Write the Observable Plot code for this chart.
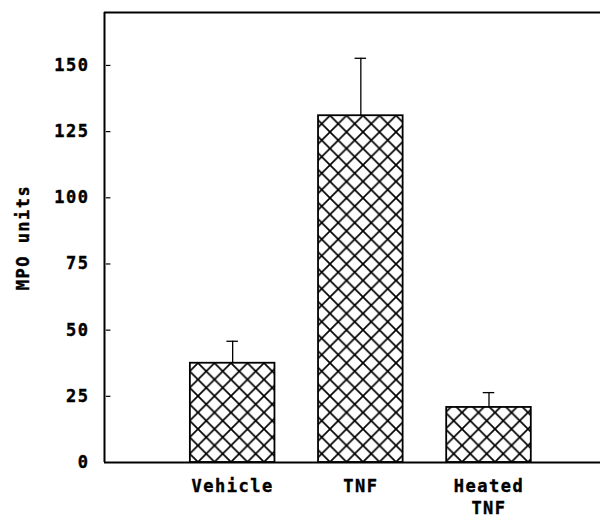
<!DOCTYPE html>
<html>
<head>
<meta charset="utf-8">
<script src="https://cdn.jsdelivr.net/npm/d3@7"></script>
<script src="https://cdn.jsdelivr.net/npm/@observablehq/plot@0.6"></script>
<style>
  html, body { margin: 0; padding: 0; background: #fff; }
  svg text { stroke: #000; stroke-width: 0.4px; }
</style>
</head>
<body>
<div id="chart"></div>
<script>
const categories = ["Vehicle", "TNF", "Heated\nTNF"];
const means = [37.5, 131, 20.8];
const errors = [8.3, 21.7, 5.6];
const yTicks = [0, 25, 50, 75, 100, 125, 150];
const yLabel = "MPO units";

const data = categories.map((c, i) => ({cat: c, pos: i + 1, mean: means[i], top: means[i] + errors[i]}));
const halfBar = 0.33;
const halfCap = 0.045;

const chart = Plot.plot({
  width: 601,
  height: 520,
  marginTop: 12,
  marginBottom: 58,
  marginLeft: 104,
  marginRight: 1,
  style: {fontFamily: "'DejaVu Sans Mono', monospace", fontSize: "17px", fontWeight: "bold", letterSpacing: "1.5px", background: "#fff", color: "#000"},
  x: {domain: [0, 3.87]},
  y: {domain: [0, 170]},
  marks: [
    Plot.rectY(data, {x1: d => d.pos - halfBar, x2: d => d.pos + halfBar, y1: 0, y2: "mean", fill: "url(#xhatch)", stroke: "#000", strokeWidth: 1.8}),
    Plot.ruleX(data, {x: "pos", y1: "mean", y2: "top", stroke: "#000", strokeWidth: 1.3}),
    Plot.ruleY(data, {y: "top", x1: d => d.pos - halfCap, x2: d => d.pos + halfCap, stroke: "#000", strokeWidth: 1.3}),
    Plot.ruleY(yTicks.slice(1), {x1: 0.015, x2: 0.05, stroke: "#000", strokeWidth: 1.2}),
    Plot.axisY({ticks: yTicks, tickSize: 0, tickPadding: 15, label: yLabel, labelAnchor: "center", labelArrow: "none", labelOffset: 88, fontSize: 17}),
    Plot.axisX({ticks: [1, 2, 3], tickFormat: d => categories[d - 1], tickSize: 0, tickPadding: 14, label: null, lineHeight: 1.3}),
    Plot.ruleY([0], {stroke: "#000", strokeWidth: 2}),
    Plot.ruleY([170], {stroke: "#000", strokeWidth: 2}),
    Plot.ruleX([0], {stroke: "#000", strokeWidth: 2})
  ]
});

const ns = "http://www.w3.org/2000/svg";
const svg = chart.tagName.toLowerCase() === "svg" ? chart : chart.querySelector("svg");
const defs = document.createElementNS(ns, "defs");
const pat = document.createElementNS(ns, "pattern");
const P = 16.5;
pat.setAttribute("id", "xhatch");
pat.setAttribute("patternUnits", "userSpaceOnUse");
pat.setAttribute("width", P);
pat.setAttribute("height", P);
pat.innerHTML = `<rect width="${P}" height="${P}" fill="#fff"/>` +
  `<path d="M-1,-1L${P + 1},${P + 1}M-1,${P + 1}L${P + 1},-1" stroke="#000" stroke-width="1.7"/>`;
defs.appendChild(pat);
svg.insertBefore(defs, svg.firstChild);

document.getElementById("chart").appendChild(chart);
</script>
</body>
</html>
